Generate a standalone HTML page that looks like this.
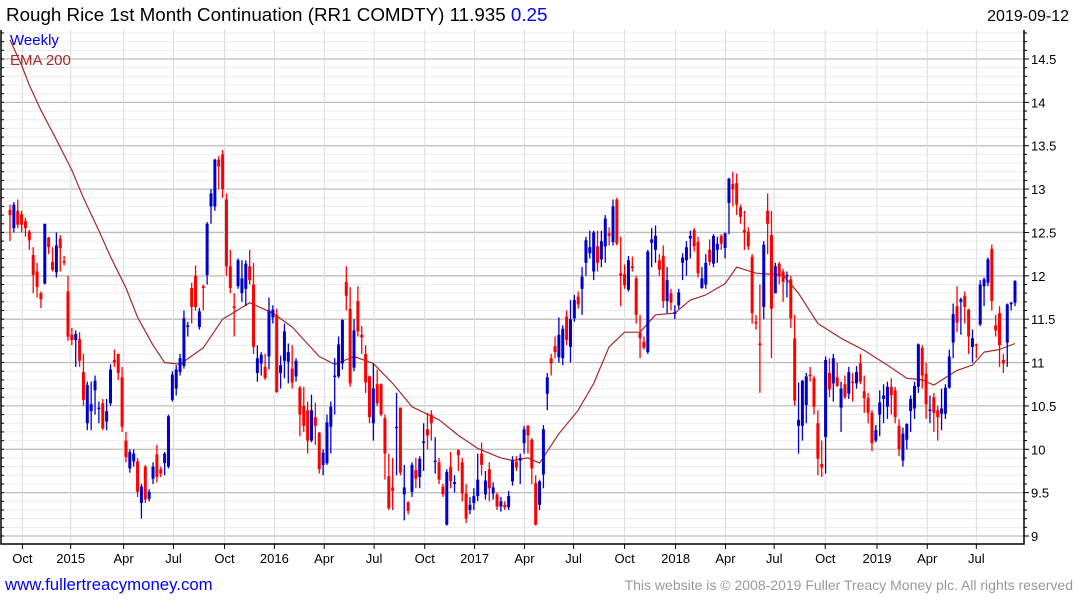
<!DOCTYPE html>
<html><head><meta charset="utf-8">
<style>
html,body{margin:0;padding:0;background:#fff;}
body{width:1075px;height:600px;overflow:hidden;position:relative;font-family:"Liberation Sans",sans-serif;}
</style></head>
<body>
<svg id="chart" width="1075" height="600" xmlns="http://www.w3.org/2000/svg" style="position:absolute;left:0;top:0;font-family:'Liberation Sans',sans-serif;">
  <text x="6" y="21" font-size="18.8" fill="#000">Rough Rice 1st Month Continuation (RR1 COMDTY) 11.935 <tspan fill="#0000ff">0.25</tspan></text>
  <text x="1069" y="21" font-size="16" fill="#000" text-anchor="end">2019-09-12</text>
  <g id="grid"></g>
  <g id="ema"></g>
  <g id="bars"></g>
  <g id="axes"></g>
  <text x="10" y="45" font-size="15" fill="#0000ff">Weekly</text>
  <text x="10" y="65" font-size="15" fill="#a52a2a">EMA 200</text>
  <text x="5" y="590" font-size="16.8" fill="#0000ff">www.fullertreacymoney.com</text>
  <text x="1073" y="590" font-size="14" fill="#999" text-anchor="end">This website is © 2008-2019 Fuller Treacy Money plc. All rights reserved</text>
</svg>
<script>
const opens=[12.76,12.55,12.75,12.71,12.63,12.51,12.24,12.05,11.80,11.91,12.44,12.16,12.04,12.43,12.17,11.82,11.32,11.26,11.27,10.89,10.30,10.44,10.68,10.47,10.53,10.32,10.53,11.03,11.10,10.83,10.10,9.78,9.86,9.86,9.38,9.80,9.43,9.66,9.94,9.77,9.84,9.80,10.57,10.70,10.89,10.96,11.41,11.86,12.00,11.41,11.88,12.01,12.80,12.80,13.34,13.40,12.88,12.11,11.65,11.88,11.80,11.85,12.11,11.90,10.88,10.99,10.95,11.07,11.52,11.55,10.88,11.02,11.01,10.93,10.84,10.71,10.50,10.45,10.10,10.37,10.19,9.82,9.84,10.26,10.84,10.84,10.99,11.93,11.62,10.94,11.71,11.32,11.10,10.84,10.30,10.75,10.75,10.36,9.69,9.56,10.25,10.48,9.48,9.39,9.51,9.76,9.68,10.08,10.23,10.40,9.86,9.85,9.57,9.13,9.80,9.60,9.99,9.85,9.49,9.30,9.38,9.46,9.95,9.48,9.77,9.49,9.48,9.34,9.36,9.33,9.63,9.86,9.87,10.07,10.27,10.11,9.61,9.36,9.71,10.64,11.05,11.19,11.06,11.05,11.53,11.18,11.51,11.76,11.85,12.15,12.26,12.05,12.34,12.19,12.34,12.49,12.39,12.88,12.03,12.02,11.84,12.11,11.97,11.34,11.24,11.12,12.38,12.30,12.18,12.23,11.71,11.80,11.56,11.66,12.15,12.18,12.43,12.53,12.39,11.86,11.90,12.30,12.14,12.30,12.46,12.32,12.84,13.06,13.07,12.79,12.53,12.51,12.22,11.47,11.22,11.64,12.75,12.47,11.80,12.14,12.05,12.00,11.96,11.28,10.27,10.27,10.51,10.86,10.82,10.30,9.83,10.14,10.88,10.76,10.83,10.48,10.75,10.64,10.78,10.76,10.99,10.67,10.59,10.42,10.10,10.40,10.58,10.49,10.72,10.68,10.27,9.87,10.11,10.44,10.47,10.72,11.17,10.87,10.45,10.60,10.45,10.41,10.41,10.71,11.23,11.65,11.70,11.77,11.61,11.18,11.21,11.44,11.88,11.92,12.31,11.43,11.57,11.03,11.23,11.68,11.69];
const highs=[12.82,12.85,12.88,12.75,12.67,12.53,12.33,12.15,11.82,12.60,12.45,12.33,12.50,12.47,12.23,12.00,11.40,11.37,11.35,11.10,10.78,10.78,10.85,10.55,10.58,10.58,10.98,11.15,11.10,10.95,10.20,10.00,10.00,9.90,9.60,9.82,9.54,9.85,10.05,9.80,9.97,10.40,10.90,10.97,11.10,11.60,11.47,11.92,12.12,11.63,11.90,12.62,13.00,13.35,13.38,13.45,12.95,12.30,11.80,12.20,12.18,12.18,12.30,12.15,11.20,11.12,11.10,11.75,11.66,11.62,11.08,11.45,11.22,11.20,11.05,10.73,10.72,10.55,10.63,10.54,10.20,10.00,10.40,10.55,11.05,11.30,11.50,12.11,11.87,11.50,11.88,11.42,11.20,10.85,10.99,10.92,10.76,10.40,9.95,9.90,10.65,10.48,9.82,9.40,9.85,9.90,9.92,10.30,10.42,10.45,10.14,9.90,9.60,9.77,9.97,9.70,10.00,9.90,9.60,9.45,9.55,9.95,10.08,9.75,9.85,9.62,9.50,9.45,9.40,9.52,9.92,9.92,9.95,10.27,10.28,10.13,9.70,9.65,10.28,10.88,11.10,11.30,11.52,11.43,11.60,11.72,11.78,11.82,12.10,12.45,12.52,12.52,12.52,12.52,12.70,12.56,12.88,12.90,12.45,12.13,12.23,12.22,12.00,11.55,11.30,12.30,12.55,12.58,12.25,12.35,12.10,11.85,11.66,11.85,12.26,12.40,12.52,12.55,12.45,12.10,12.25,12.42,12.48,12.45,12.48,12.50,13.13,13.20,13.18,12.82,12.75,12.56,12.25,11.55,11.90,12.40,12.95,12.75,12.15,12.16,12.08,12.05,12.00,11.55,10.77,10.80,10.88,10.95,10.85,10.45,10.10,11.07,11.05,11.10,11.00,10.78,10.85,10.95,10.88,10.96,11.10,10.85,10.65,10.45,10.28,10.68,10.75,10.78,10.82,10.72,10.35,10.25,10.30,10.62,10.78,11.22,11.20,11.00,10.62,10.65,10.50,10.70,10.75,11.15,11.68,11.88,11.75,11.82,11.62,11.38,11.22,11.95,11.98,12.21,12.36,11.55,11.65,11.10,11.68,11.70,11.95];
const lows=[12.40,12.50,12.55,12.50,12.45,12.30,11.80,11.75,11.63,11.90,12.25,12.05,11.98,12.05,12.12,11.25,11.20,10.95,10.95,10.50,10.22,10.22,10.40,10.30,10.22,10.22,10.50,10.95,10.80,10.20,9.85,9.73,9.80,9.45,9.20,9.38,9.40,9.60,9.62,9.68,9.70,9.78,10.55,10.62,10.85,10.93,11.30,11.45,11.60,11.38,11.60,11.90,12.60,12.75,13.00,12.90,12.00,11.80,11.30,11.85,11.70,11.65,11.90,11.10,10.78,10.85,10.80,10.92,11.45,10.65,10.70,10.82,10.76,10.70,10.78,10.15,10.20,9.95,10.08,10.05,9.72,9.70,9.82,9.95,10.40,10.82,10.92,11.60,10.72,10.90,11.30,11.10,10.65,10.30,10.10,10.50,10.38,9.65,9.30,9.30,9.70,9.70,9.18,9.25,9.45,9.55,9.55,9.75,10.00,10.10,9.72,9.60,9.45,9.12,9.55,9.50,9.75,9.40,9.15,9.25,9.30,9.40,9.70,9.42,9.40,9.42,9.30,9.28,9.30,9.30,9.58,9.75,9.60,9.95,9.95,9.60,9.12,9.30,9.55,10.45,10.85,11.05,11.00,10.97,11.20,11.00,11.47,11.62,11.55,12.00,12.20,11.95,12.05,12.10,12.15,12.35,12.35,12.35,11.65,11.85,11.82,12.05,11.45,11.05,11.15,11.10,12.10,12.15,12.00,11.63,11.57,11.60,11.50,11.62,11.95,12.00,12.20,12.28,11.98,11.85,11.85,12.12,12.10,12.15,12.30,12.20,12.48,12.80,12.70,12.60,12.30,12.30,11.45,11.38,10.65,11.50,12.25,11.05,11.80,11.90,11.70,11.75,11.40,10.50,9.95,10.10,10.30,10.78,10.40,9.70,9.68,9.72,10.60,10.55,10.72,10.20,10.58,10.58,10.55,10.70,10.75,10.42,10.30,9.98,10.08,10.15,10.30,10.35,10.40,10.30,9.92,9.80,10.00,10.20,10.35,10.65,10.70,10.35,10.30,10.20,10.10,10.22,10.35,10.70,11.05,11.35,11.32,11.45,11.10,11.00,11.05,11.42,11.65,11.88,11.60,11.30,10.95,10.88,10.95,11.60,11.65];
const closes=[12.70,12.82,12.59,12.59,12.55,12.41,12.01,11.87,11.73,12.60,12.33,12.07,12.35,12.32,12.15,11.30,11.26,11.33,11.02,10.57,10.74,10.52,10.79,10.48,10.24,10.44,10.92,11.00,10.88,10.26,9.91,9.97,9.95,9.51,9.57,9.42,9.51,9.80,9.68,9.72,9.95,10.38,10.86,10.92,11.05,11.51,11.43,11.64,11.64,11.59,11.86,12.60,12.95,13.34,13.26,13.00,12.11,11.86,11.63,12.18,11.97,12.14,11.95,11.18,11.05,11.09,10.82,11.60,11.61,10.66,10.97,11.36,11.12,10.77,11.02,10.40,10.27,10.10,10.45,10.27,9.77,9.96,10.31,10.49,10.85,11.21,11.49,11.77,10.76,11.37,11.36,11.29,10.77,10.37,10.70,10.53,10.40,9.95,9.32,9.52,10.26,9.73,9.56,9.29,9.82,9.66,9.89,10.09,10.16,10.30,9.87,9.65,9.48,9.74,9.63,9.62,9.93,9.49,9.20,9.36,9.46,9.65,9.82,9.64,9.55,9.56,9.34,9.40,9.33,9.46,9.87,9.79,9.90,10.23,10.16,9.78,9.13,9.63,10.23,10.83,10.99,11.12,11.32,11.39,11.26,11.50,11.72,11.67,11.99,12.41,12.33,12.50,12.15,12.40,12.66,12.46,12.80,12.37,12.00,11.89,12.18,12.09,11.55,11.28,11.17,12.28,12.42,12.46,12.07,11.71,11.95,11.69,11.58,11.81,12.21,12.33,12.46,12.34,12.03,11.97,12.15,12.16,12.46,12.37,12.37,12.49,13.12,13.00,12.82,12.68,12.50,12.34,11.57,11.45,11.20,12.36,12.60,11.62,12.11,11.99,11.93,12.01,11.51,10.56,10.34,10.79,10.84,10.85,10.49,9.89,9.79,11.03,10.69,11.05,10.73,10.70,10.60,10.89,10.77,10.89,10.78,10.59,10.42,10.07,10.22,10.54,10.62,10.72,10.62,10.37,10.00,10.18,10.29,10.58,10.73,11.21,10.85,10.52,10.46,10.42,10.37,10.47,10.71,11.07,11.56,11.46,11.73,11.64,11.30,11.28,11.20,11.90,11.96,12.19,11.71,11.37,11.20,10.99,11.67,11.69,11.94];
const emaWeeks=[0,3,5,8,12,16,19,23,26,30,33,37,40,44,50,55,62,68,73,80,84,89,94,99,104,111,116,121,127,130,134,137,142,147,151,155,159,163,167,172,176,180,185,188,193,200,204,209,215,221,227,232,236,239,245,249,252,256,260];
const emaValues=[14.72,14.43,14.2,13.91,13.57,13.22,12.90,12.52,12.22,11.86,11.52,11.2,11.00,10.98,11.17,11.50,11.69,11.57,11.41,11.07,10.98,11.07,10.99,10.76,10.49,10.34,10.16,10.01,9.90,9.87,9.90,9.84,10.18,10.45,10.76,11.18,11.35,11.35,11.55,11.57,11.72,11.78,11.91,12.10,12.03,12.01,11.80,11.45,11.28,11.14,10.97,10.82,10.80,10.74,10.91,10.97,11.12,11.15,11.22];
const yTicks=[9,9.5,10,10.5,11,11.5,12,12.5,13,13.5,14,14.5];
const xLabels=["Oct","2015","Apr","Jul","Oct","2016","Apr","Jul","Oct","2017","Apr","Jul","Oct","2018","Apr","Jul","Oct","2019","Apr","Jul"];
const xLabelWeeks=[3.2,15.7,29.4,42.3,55.5,68.4,81.3,94.2,107.3,120.2,133.1,145.8,159,172.2,185.1,197.7,210.9,224.3,237.3,250];

const NS="http://www.w3.org/2000/svg";
const L=1,R=1024,T=30,B=544;
const X0=10,X1=1015;
const n=closes.length;
function xs(i){return X0+(X1-X0)*i/(n-1);}
function ys(p){return 59+(14.5-p)*(536-59)/5.5;}
function mk(tag,attrs,parent){const e=document.createElementNS(NS,tag);for(const k in attrs)e.setAttribute(k,attrs[k]);parent.appendChild(e);return e;}
const grid=document.getElementById('grid'),axes=document.getElementById('axes'),barsG=document.getElementById('bars'),emaG=document.getElementById('ema');

for(let k=0;k<=60;k++){const p=8.9+k*0.1;const y=ys(p);if(y<T||y>B)continue;
  const isMaj=Math.abs(p*2-Math.round(p*2))<1e-6;
  const ln=mk('line',{x1:L,x2:R,y1:y,y2:y,stroke:isMaj?'#bdbdbd':'#ececec','stroke-width':isMaj?1.3:1},grid);
  
  
  const tk=mk('line',{x1:R,x2:R+(isMaj?5:3),y1:y,y2:y,stroke:'#000'},axes);
  
  
  const tl=mk('line',{x1:L,x2:L+3,y1:y,y2:y,stroke:'#000'},axes);
  
  
}
yTicks.forEach(v=>{const t=mk('text',{x:R+7,y:ys(v)+5,'font-size':13,fill:'#000'},axes);t.textContent=String(v);
  
  });
xLabels.forEach((lab,j)=>{const x=xs(xLabelWeeks[j]);
  const g=mk('line',{x1:x,x2:x,y1:T,y2:B,stroke:'#dcdcdc'},grid);
  
  
  const tk=mk('line',{x1:x,x2:x,y1:B,y2:B+5,stroke:'#000'},axes);
  
  
  const t=mk('text',{x:x,y:B+19,'font-size':13,'text-anchor':'middle',fill:'#000'},axes);t.textContent=lab;
  
  });
const fr=mk('path',{d:`M${L},${T} L${L},${B} L${R},${B} L${R},${T}`,fill:'none',stroke:'#000','stroke-width':1.5},axes);



let d='';emaWeeks.forEach((w,i)=>{d+=(i?'L':'M')+xs(w).toFixed(1)+','+ys(emaValues[i]).toFixed(1);});
const ep=mk('path',{d:d,fill:'none',stroke:'#a52a2a','stroke-width':1.2,'stroke-linejoin':'round'},emaG);



for(let i=0;i<n;i++){
  const up=closes[i]>=opens[i];const col=up?'#0000cc':'#ff0000';const x=xs(i);
  const g=mk('g',{},barsG);
  
  
  mk('line',{x1:x,x2:x,y1:ys(highs[i]),y2:ys(lows[i]),stroke:col,'stroke-width':1.3},g);
  const top=ys(Math.max(opens[i],closes[i])),bot=ys(Math.min(opens[i],closes[i]));
  mk('rect',{x:x-1.5,y:top,width:3,height:Math.max(1.5,bot-top),fill:col},g);
}
</script>
</body></html>
